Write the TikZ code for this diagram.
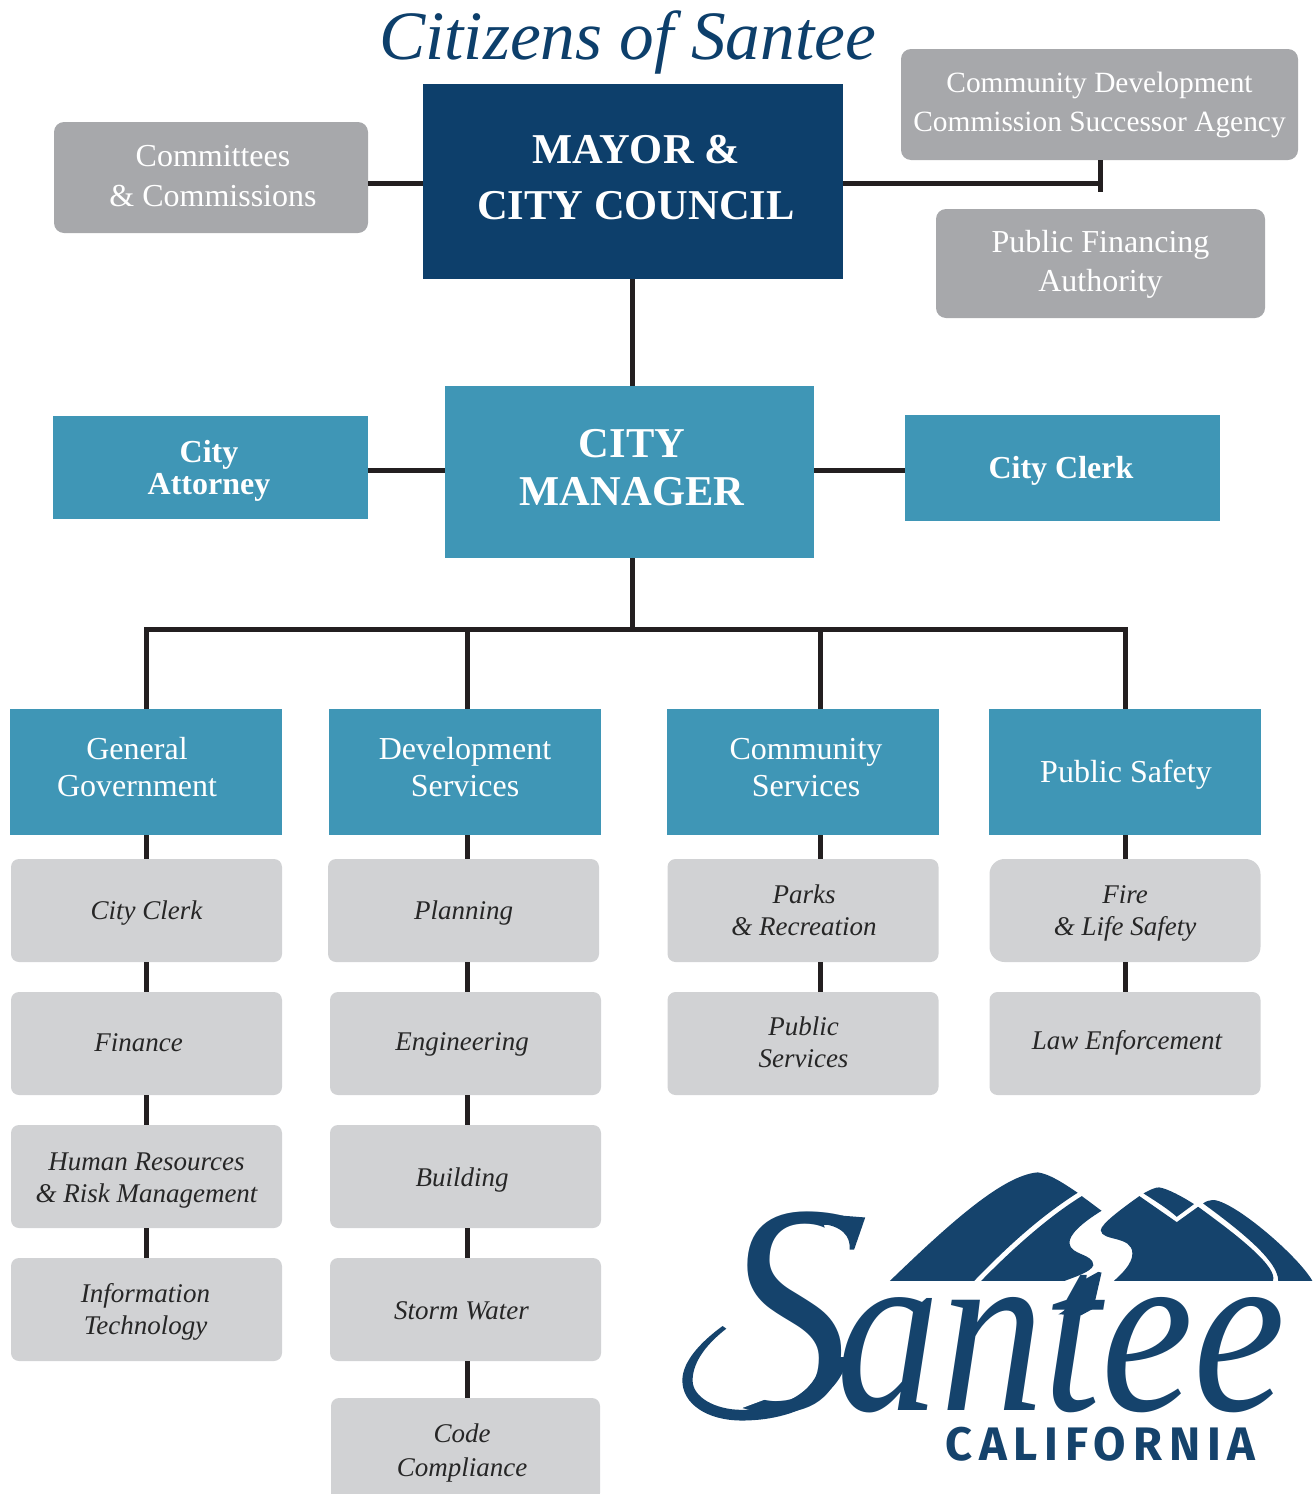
\documentclass[tikz,border=0pt]{standalone}
\usepackage{fontspec}
\setmainfont{Liberation Serif}
\newfontfamily\logosans[LetterSpace=14.5]{Fira Sans}
\usepackage{tikz}
\definecolor{navy}{HTML}{0D3F6B}
\definecolor{logoblue}{HTML}{15436C}
\definecolor{teal}{HTML}{3F96B6}
\definecolor{midgrey}{HTML}{A7A8AB}
\definecolor{softgrey}{HTML}{D1D2D4}
\definecolor{wire}{HTML}{231F20}
% moves the lines of a label inside its box, first value counted twice
\newcommand{\nudge}[3]{\hspace*{#1}\raisebox{#2}[\height][\depth]{\begin{tabular}{@{}c@{}}#3\end{tabular}}}
\begin{document}
\begin{tikzpicture}[x=1pt,y=-1pt]
	\tikzstyle{board}=[fill=midgrey,text=white,rounded corners=10pt,inner sep=0pt,align=center,font=\fontsize{32}{39.5}\selectfont]
	\tikzstyle{head}=[fill=teal,text=white,inner sep=0pt,align=center,minimum width=272pt,minimum height=126pt,font=\fontsize{32}{37}\selectfont]
	\tikzstyle{aide}=[fill=teal,text=white,inner sep=0pt,align=center,minimum width=315pt,font=\fontsize{32}{32}\selectfont\bfseries]
	\tikzstyle{unit}=[fill=softgrey,text=black!85,rounded corners=8pt,inner sep=0pt,align=center,minimum width=271pt,minimum height=103pt,font=\fontsize{27}{32}\selectfont\itshape]
	\tikzstyle{wireline}=[draw=wire,line width=5pt]
	\useasboundingbox (0,0) rectangle (1313,1494);
	% top of the chart
	\node[text=navy,inner sep=0pt,font=\fontsize{69.3}{69}\selectfont\itshape](citizens) at (627.5,42) {Citizens of Santee};
	\node[fill=navy,text=white,inner sep=0pt,align=center,minimum width=420pt,minimum height=195pt,font=\fontsize{42.5}{56}\selectfont\bfseries](mayor) at (633,181.5) {\nudge{6pt}{1pt}{MAYOR \&\\CITY COUNCIL}};
	\node[board,minimum width=314pt,minimum height=111pt](committees) at (211,177.5) {\nudge{4pt}{-1pt}{Committees\\\& Commissions}};
	\node[board,minimum width=397pt,minimum height=111pt,font=\fontsize{29.4}{39}\selectfont](agency) at (1099.5,104.5) {Community Development\\Commission Successor Agency};
	\node[board,minimum width=329pt,minimum height=109pt](financing) at (1100.5,263.5) {\nudge{0pt}{-0.5pt}{Public Financing\\Authority}};
	% manager row
	\node[fill=teal,text=white,inner sep=0pt,align=center,minimum width=369pt,minimum height=172pt,font=\fontsize{42.5}{48}\selectfont\bfseries](manager) at (629.5,472) {\nudge{5pt}{0pt}{CITY\\MANAGER}};
	\node[aide,minimum height=103pt](attorney) at (210.5,467.5) {\nudge{-3pt}{-5pt}{City\\Attorney}};
	\node[aide,minimum height=106pt](clerk) at (1062.5,468) {\nudge{-3pt}{-4pt}{City Clerk}};
	% departments
	\node[head](general) at (146,772) {\nudge{-18pt}{1pt}{General\\Government}};
	\node[head](development) at (465,772) {\nudge{0pt}{1pt}{Development\\Services}};
	\node[head](community) at (803,772) {\nudge{6pt}{1pt}{Community\\Services}};
	\node[head](safety) at (1125,772) {\nudge{2pt}{-3pt}{Public Safety}};
	% first column
	\node[unit](unitclerk) at (146.5,910.5) {\nudge{0pt}{-3pt}{City Clerk}};
	\node[unit](finance) at (146.5,1043.5) {\nudge{-16pt}{-2pt}{Finance}};
	\node[unit](human) at (146.5,1176.5) {\nudge{0pt}{-4pt}{Human Resources\\\& Risk Management}};
	\node[unit](technology) at (146.5,1309.5) {\nudge{-2pt}{-3pt}{Information\\Technology}};
	% second column
	\node[unit](planning) at (463.5,910.5) {\nudge{0pt}{-3pt}{Planning}};
	\node[unit](engineering) at (465.5,1043.5) {\nudge{-7pt}{-1pt}{Engineering}};
	\node[unit](building) at (465.5,1176.5) {\nudge{-7pt}{-4pt}{Building}};
	\node[unit](storm) at (465.5,1309.5) {\nudge{-8pt}{-4pt}{Storm Water}};
	\node[unit,minimum width=269pt,font=\fontsize{27}{34}\selectfont\itshape](code) at (465.5,1449.5) {\nudge{-7pt}{-3pt}{Code\\Compliance}};
	% third column
	\node[unit](parks) at (803,910.5) {\nudge{2pt}{-3pt}{Parks\\\& Recreation}};
	\node[unit](services) at (803,1043.5) {\nudge{1pt}{-2pt}{Public\\Services}};
	% fourth column
	\node[unit,rounded corners=15pt](fire) at (1125,910.5) {\nudge{0pt}{-3pt}{Fire\\\& Life Safety}};
	\node[unit](law) at (1125,1043.5) {\nudge{4pt}{0pt}{Law Enforcement}};
	% where the lines run
	\coordinate (tie) at (632,183.5);
	\coordinate (trunk) at (632,629);
	\coordinate (spineA) at (146,629);
	\coordinate (spineB) at (467.5,629);
	\coordinate (spineC) at (820.5,629);
	\coordinate (spineD) at (1125,629);
	\coordinate (tick) at (1100.5,192);
	\coordinate (level) at (632,470.5);
	\draw[wireline](committees.east |- tie) -- (mayor.west |- tie);
	\draw[wireline](mayor.east |- tie) -- (tick |- tie);
	\draw[wireline](tick |- agency.south) -- (tick);
	\draw[wireline](trunk |- mayor.south) -- (trunk |- manager.north);
	\draw[wireline](attorney.east |- level) -- (manager.west |- level);
	\draw[wireline](manager.east |- level) -- (clerk.west |- level);
	\draw[wireline](trunk |- manager.south) -- (trunk);
	\draw[wireline](spineA |- general.north) -- (spineA) -- (spineD) -- (spineD |- safety.north);
	\draw[wireline](spineB) -- (spineB |- development.north);
	\draw[wireline](spineC) -- (spineC |- community.north);
	\draw[wireline](general.south -| spineA) -- (unitclerk.north -| spineA);
	\draw[wireline](unitclerk.south -| spineA) -- (finance.north -| spineA);
	\draw[wireline](finance.south -| spineA) -- (human.north -| spineA);
	\draw[wireline](human.south -| spineA) -- (technology.north -| spineA);
	\draw[wireline](development.south -| spineB) -- (planning.north -| spineB);
	\draw[wireline](planning.south -| spineB) -- (engineering.north -| spineB);
	\draw[wireline](engineering.south -| spineB) -- (building.north -| spineB);
	\draw[wireline](building.south -| spineB) -- (storm.north -| spineB);
	\draw[wireline](storm.south -| spineB) -- (code.north -| spineB);
	\draw[wireline](community.south -| spineC) -- (parks.north -| spineC);
	\draw[wireline](parks.south -| spineC) -- (services.north -| spineC);
	\draw[wireline](safety.south -| spineD) -- (fire.north -| spineD);
	\draw[wireline](fire.south -| spineD) -- (law.north -| spineD);
	% logo
	\node[text=logoblue,inner sep=0pt,anchor=base west,xscale=0.865,font=\itshape](santee) at (722,1410) {{\fontsize{300}{300}\selectfont S}\kern-18pt{\fontsize{240}{240}\selectfont antee}};
	\node[text=logoblue,inner sep=0pt,anchor=base west,font=\fontsize{47}{47}\logosans\bfseries](california) at (945,1460) {CALIFORNIA};
	\begin{scope}[shift={(670,1160)},x=0.411pt,y=-0.334pt]
		\fill[logoblue] (535,362) .. controls (680,190) and (810,45) .. (895,37) .. controls (925,42) and (960,72) .. (992,98) .. controls (900,170) and (820,260) .. (740,362) -- cycle;
		\fill[logoblue] (1002,108) -- (1050,152) .. controls (1000,190) and (970,225) .. (972,250) .. controls (975,285) and (1030,280) .. (1030,315) .. controls (1025,335) and (985,350) .. (960,362) -- (757,362) .. controls (830,270) and (920,170) .. (1002,108) -- cycle;
		\fill[logoblue] (1142,108) .. controls (1100,145) and (1050,190) .. (1048,210) .. controls (1050,245) and (1125,225) .. (1125,280) .. controls (1125,310) and (1100,340) .. (1080,362) -- (1467,362) .. controls (1480,320) and (1380,225) .. (1285,140) -- (1233,186) -- cycle;
		\fill[logoblue] (1152,100) .. controls (1170,88) and (1180,82) .. (1190,82) .. controls (1210,85) and (1250,112) .. (1275,132) -- (1233,170) .. controls (1210,145) and (1180,122) .. (1152,100) -- cycle;
		\fill[logoblue] (1297,130) .. controls (1305,122) and (1315,120) .. (1325,120) .. controls (1380,130) and (1530,290) .. (1563,362) -- (1480,362) .. controls (1480,300) and (1380,205) .. (1297,130) -- cycle;
		% serifs of the S give way to its swash
		\fill[white] (100,480) -- (235,480) -- (290,690) -- (170,745) -- (100,700) -- cycle;
		\fill[white] (375,195) -- (436,195) -- (436,315) -- (395,315) -- cycle;
		\fill[logoblue] (430,590) .. controls (425,680) and (330,780) .. (175,780) .. controls (90,780) and (30,730) .. (30,660) .. controls (30,600) and (80,540) .. (128,497) -- (137,505) .. controls (95,545) and (55,600) .. (55,660) .. controls (55,710) and (110,748) .. (175,748) .. controls (290,748) and (365,680) .. (368,590) -- cycle;
		\fill[logoblue] (475,172) -- (448,268) -- (437,268) .. controls (440,230) and (420,195) .. (360,190) -- (370,162) -- cycle;
		% top of the t
		\fill[logoblue] (1042,335) -- (1050,337) -- (1030,445) -- (1000,465) -- (945,462) .. controls (985,435) and (990,390) .. (1002,362) -- cycle;
	\end{scope}
\end{tikzpicture}
\end{document}
